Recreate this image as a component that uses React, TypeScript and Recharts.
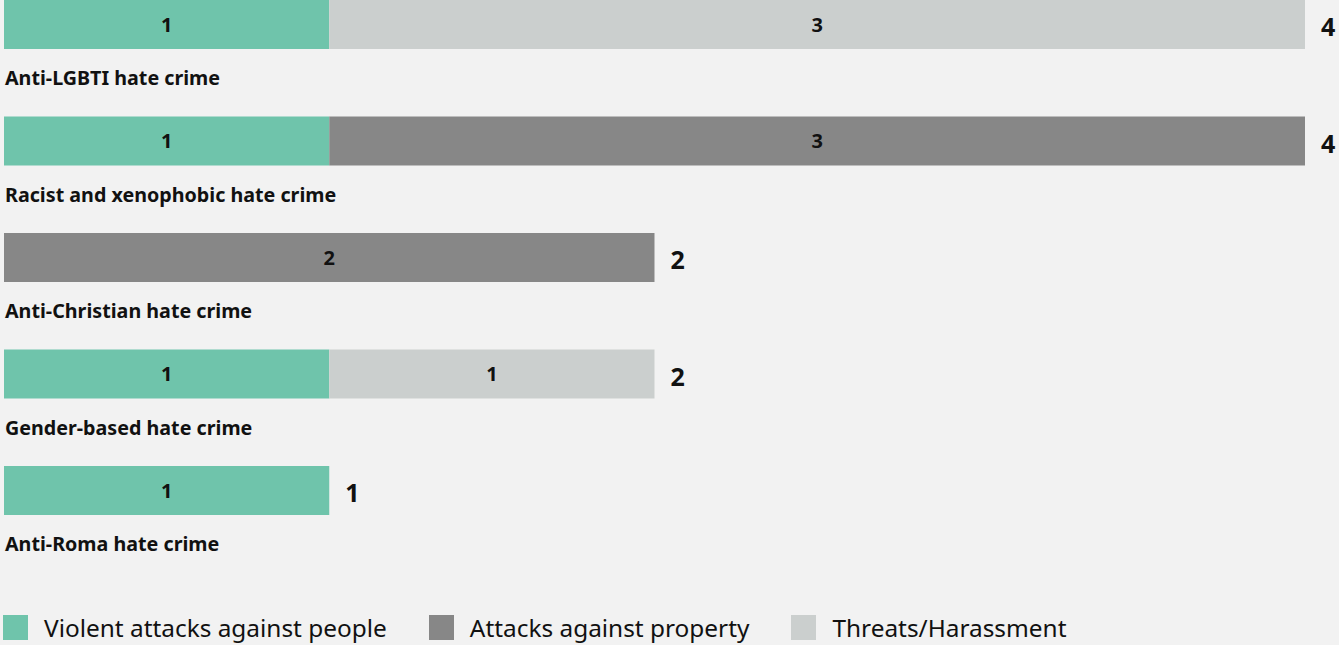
import React from 'react';
import { BarChart, Bar, XAxis, YAxis, LabelList, Legend } from 'recharts';

const categories = [
  'Anti-LGBTI hate crime',
  'Racist and xenophobic hate crime',
  'Anti-Christian hate crime',
  'Gender-based hate crime',
  'Anti-Roma hate crime',
];
const violentAttacks = [1, 1, 0, 1, 1];
const propertyAttacks = [0, 3, 2, 0, 0];
const threatsHarassment = [3, 0, 0, 1, 0];

const seriesKeys = ['violent', 'property', 'threats'];
const seriesNames = ['Violent attacks against people', 'Attacks against property', 'Threats/Harassment'];
const seriesColors = ['#6fc4ab', '#878787', '#cbcfce'];

const data = categories.map((name, i) => ({
  name,
  violent: violentAttacks[i],
  property: propertyAttacks[i],
  threats: threatsHarassment[i],
  total: violentAttacks[i] + propertyAttacks[i] + threatsHarassment[i],
}));

const FONT = '"Noto Sans", sans-serif';
const TEXT = '#111111';

const lastSeries = (row: any) => {
  let last = -1;
  seriesKeys.forEach((k, i) => {
    if (row && row[k]) last = i;
  });
  return last;
};

const CategoryTick = (props: any) => {
  const { x, y, payload } = props;
  return (
    <text x={x + 1} y={y + 61} fill={TEXT} fontSize={19.7} fontWeight={700} fontFamily={FONT} textAnchor="start">
      {payload.value}
    </text>
  );
};

const hideZero = (v: any) => (v ? v : '');

const LegendContent = () => (
  <div style={{ display: 'flex', alignItems: 'center', fontFamily: FONT }}>
    {seriesNames.map((n, i) => (
      <div key={n} style={{ display: 'flex', alignItems: 'center', marginRight: 42 }}>
        <div style={{ width: 25, height: 25, background: seriesColors[i], marginRight: 16 }} />
        <span style={{ fontSize: 24.4, color: TEXT, lineHeight: '25px', whiteSpace: 'nowrap' }}>{n}</span>
      </div>
    ))}
  </div>
);

export default function App() {
  return (
    <div style={{ position: 'absolute', left: 0, top: 0, width: 1339, height: 645, background: '#f2f2f2', overflow: 'hidden' }}>
      <div style={{ position: 'absolute', left: 0, top: -33.75 }}>
        <BarChart
          width={1339}
          height={700}
          data={data}
          layout="vertical"
          margin={{ top: 0, right: 34, bottom: 117.5, left: 4 }}
          barSize={49}
          style={{ fontFamily: FONT }}
        >
          <XAxis type="number" domain={[0, 4]} hide />
          <YAxis
            type="category"
            dataKey="name"
            width={1}
            mirror
            axisLine={false}
            tickLine={false}
            tickSize={0}
            tickMargin={0}
            tick={<CategoryTick />}
            interval={0}
          />
          {seriesKeys.map((k, i) => (
            <Bar key={k} dataKey={k} name={seriesNames[i]} stackId="a" fill={seriesColors[i]} isAnimationActive={false}>
              <LabelList dataKey={k} position="center" formatter={hideZero} fill={TEXT} fontSize={20} fontWeight={700} fontFamily={FONT} />
              <LabelList
                dataKey={(row: any) => (lastSeries(row) === i ? row.total : null)}
                position="right"
                offset={16}
                dy={3}
                formatter={hideZero}
                fill={TEXT}
                fontSize={25}
                fontWeight={700}
                fontFamily={FONT}
              />
            </Bar>
          ))}
          <Legend content={<LegendContent />} wrapperStyle={{ top: 648.75, left: 3, width: 'auto', height: 0, overflow: 'visible' }} />
        </BarChart>
      </div>
    </div>
  );
}
